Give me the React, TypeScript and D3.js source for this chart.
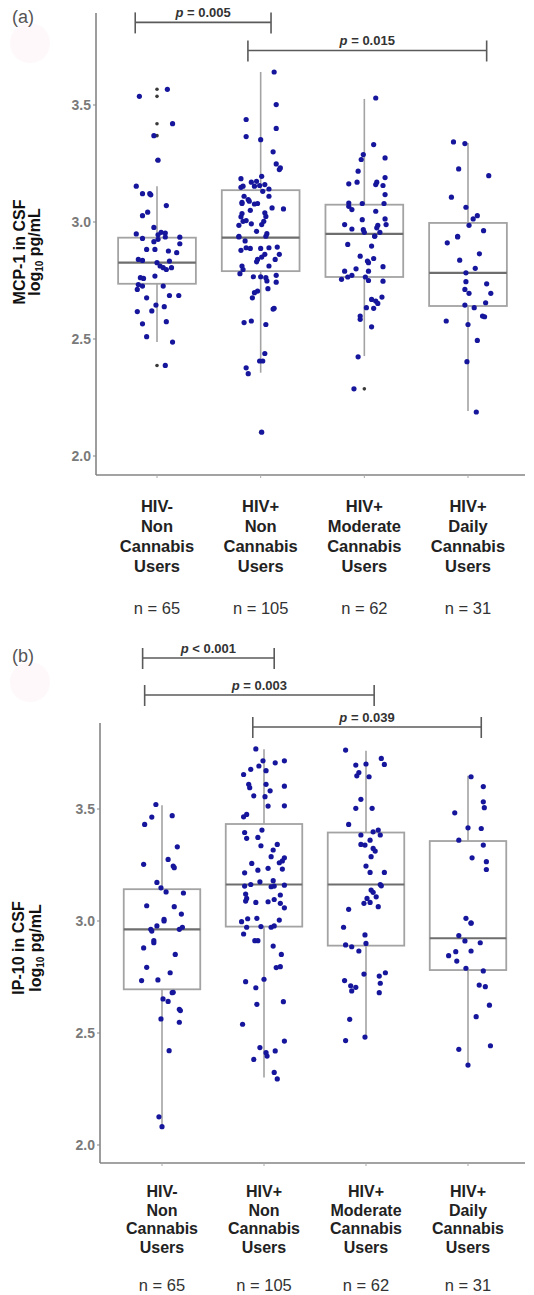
import React from "react";
import * as d3 from "d3";

type Pt = [number, number];

// ---------- shared categories ----------
const categories: string[][] = [
  ["HIV-", "Non", "Cannabis", "Users"],
  ["HIV+", "Non", "Cannabis", "Users"],
  ["HIV+", "Moderate", "Cannabis", "Users"],
  ["HIV+", "Daily", "Cannabis", "Users"],
];
const sampleSizes = ["n = 65", "n = 105", "n = 62", "n = 31"];
const yTicks = [2.0, 2.5, 3.0, 3.5];

// ---------- Panel (a): MCP-1 ----------
const mcpQ1 = [2.736, 2.79, 2.765, 2.641];
const mcpMed = [2.826, 2.933, 2.949, 2.783];
const mcpQ3 = [2.933, 3.136, 3.074, 2.996];
const mcpLo = [2.487, 2.356, 2.427, 2.192];
const mcpHi = [3.153, 3.641, 3.526, 3.338];
const mcpOutliers: Pt[] = [[0, 3.567], [0, 3.537], [0, 3.42], [0, 3.369], [0, 3.264], [0, 2.387], [1, 2.102], [2, 2.287]];

// [jitter (category units), log10 pg/mL]
const mcpG1: Pt[] = [
  [-0.17, 3.537], [0.1, 3.567], [0.15, 3.42], [-0.03, 3.369], [0.01, 3.264], [-0.2, 3.153], [-0.14, 3.121],
  [-0.07, 3.121], [-0.06, 3.116], [0.09, 3.07], [-0.09, 3.042], [-0.14, 3.027], [-0.03, 2.977], [-0.2, 2.949],
  [0.04, 2.956], [0.08, 2.953], [0.01, 2.945], [0.22, 2.935], [-0.14, 2.93], [0.01, 2.926], [0.08, 2.936],
  [-0.03, 2.916], [-0.1, 2.883], [-0.02, 2.883], [0.11, 2.876], [0.19, 2.869], [0.22, 2.907], [-0.18, 2.84],
  [-0.14, 2.836], [0.0, 2.826], [0.03, 2.812], [0.06, 2.805], [0.09, 2.797], [0.14, 2.805], [0.12, 2.833],
  [-0.02, 2.769], [-0.16, 2.762], [-0.13, 2.759], [-0.18, 2.733], [-0.19, 2.712], [-0.14, 2.726], [0.06, 2.726],
  [0.12, 2.686], [0.21, 2.686], [-0.1, 2.676], [-0.01, 2.645], [0.07, 2.638], [-0.05, 2.62], [-0.19, 2.617],
  [0.09, 2.574], [-0.14, 2.565], [-0.1, 2.51], [0.15, 2.487], [0.08, 2.387],
];
const mcpG2: Pt[] = [
  [0.13, 3.641], [0.15, 3.502], [-0.14, 3.438], [0.15, 3.4], [-0.14, 3.365], [0.0, 3.352], [0.12, 3.3],
  [0.15, 3.248], [0.18, 3.224], [0.19, 3.231], [-0.19, 3.185], [-0.09, 3.17], [-0.04, 3.174], [0.01, 3.195],
  [-0.17, 3.153], [-0.19, 3.148], [-0.06, 3.153], [-0.01, 3.156], [0.04, 3.16], [0.08, 3.141], [0.02, 3.131],
  [-0.16, 3.11], [-0.12, 3.096], [0.08, 3.11], [-0.18, 3.079], [-0.18, 3.084], [-0.11, 3.089], [-0.06, 3.077],
  [-0.03, 3.079], [0.11, 3.06], [0.22, 3.056], [-0.1, 3.05], [-0.18, 3.036], [-0.19, 3.022], [-0.17, 3.003],
  [0.04, 3.039], [0.05, 3.024], [-0.14, 3.006], [-0.09, 2.992], [0.03, 3.003], [0.01, 2.989], [-0.21, 2.986],
  [-0.04, 2.96], [0.06, 2.95], [0.05, 2.939], [-0.21, 2.939], [-0.21, 2.936], [-0.15, 2.919], [-0.14, 2.89],
  [-0.1, 2.887], [-0.19, 2.879], [0.0, 2.887], [0.08, 2.89], [0.16, 2.893], [0.18, 2.862], [0.04, 2.862],
  [0.01, 2.85], [-0.03, 2.84], [-0.04, 2.83], [0.14, 2.84], [0.08, 2.812], [-0.18, 2.812], [-0.17, 2.797],
  [-0.2, 2.779], [-0.07, 2.766], [0.0, 2.766], [0.05, 2.762], [0.06, 2.748], [0.15, 2.772], [0.15, 2.743],
  [0.07, 2.715], [-0.03, 2.705], [-0.06, 2.698], [-0.08, 2.676], [0.13, 2.631], [0.12, 2.628], [-0.16, 2.57],
  [-0.09, 2.577], [0.05, 2.562], [0.04, 2.438], [-0.01, 2.406], [0.02, 2.406], [-0.14, 2.377], [-0.12, 2.352],
  [0.01, 2.102],
];
const mcpG3: Pt[] = [
  [0.11, 3.53], [0.09, 3.331], [-0.01, 3.288], [-0.03, 3.267], [0.2, 3.274], [-0.06, 3.217], [-0.15, 3.163],
  [-0.07, 3.17], [0.12, 3.17], [0.11, 3.16], [0.18, 3.156], [0.2, 3.19], [0.2, 3.117], [-0.15, 3.081],
  [-0.15, 3.067], [-0.12, 3.053], [-0.02, 3.079], [0.19, 3.079], [0.11, 3.046], [-0.02, 3.01], [0.2, 3.013],
  [0.21, 2.989], [0.13, 2.986], [0.12, 2.975], [-0.19, 2.989], [-0.12, 2.97], [-0.01, 2.967], [0.0, 2.956],
  [0.15, 2.956], [0.1, 2.939], [-0.16, 2.904], [0.07, 2.897], [0.1, 2.94], [-0.04, 2.854], [0.03, 2.833],
  [0.09, 2.844], [0.04, 2.826], [0.18, 2.809], [-0.08, 2.8], [-0.19, 2.79], [-0.12, 2.772], [-0.16, 2.765],
  [-0.22, 2.755], [0.04, 2.79], [0.01, 2.765], [0.04, 2.75], [0.18, 2.747], [0.07, 2.669], [0.11, 2.662],
  [0.13, 2.652], [0.17, 2.679], [0.02, 2.634], [0.09, 2.631], [-0.04, 2.598], [-0.04, 2.584], [0.07, 2.552],
  [-0.06, 2.424], [-0.1, 2.287],
];
const mcpG4: Pt[] = [
  [-0.14, 3.342], [-0.03, 3.335], [-0.09, 3.227], [0.2, 3.198], [-0.16, 3.106], [-0.02, 3.063], [0.09, 3.027],
  [0.05, 3.013], [0.01, 2.986], [0.15, 2.963], [-0.1, 2.939], [-0.2, 2.911], [-0.1, 2.936], [-0.08, 2.837],
  [0.11, 2.864], [0.07, 2.802], [-0.02, 2.783], [-0.02, 2.745], [0.18, 2.736], [0.22, 2.695], [-0.03, 2.712],
  [0.01, 2.695], [0.17, 2.655], [-0.03, 2.645], [0.06, 2.634], [0.14, 2.598], [0.16, 2.595], [-0.21, 2.577],
  [0.0, 2.562], [0.09, 2.494], [-0.01, 2.403], [0.08, 2.188],
];

// ---------- Panel (b): IP-10 ----------
const ipQ1 = [2.695, 2.975, 2.89, 2.781];
const ipMed = [2.963, 3.163, 3.163, 2.923];
const ipQ3 = [3.142, 3.433, 3.395, 3.357];
const ipLo = [2.082, 2.301, 2.484, 2.357];
const ipHi = [3.517, 3.767, 3.76, 3.648];
const ipOutliers: Pt[] = [];

const ipG1: Pt[] = [
  [-0.06, 3.52], [-0.1, 3.464], [-0.17, 3.431], [0.1, 3.47], [0.15, 3.331], [-0.18, 3.253], [0.06, 3.275],
  [0.11, 3.245], [0.12, 3.238], [-0.05, 3.172], [-0.01, 3.148], [0.04, 3.13], [0.21, 3.125], [-0.15, 3.068],
  [0.12, 3.064], [0.19, 3.031], [0.02, 3.007], [0.02, 3.0], [-0.05, 2.978], [-0.11, 2.963], [-0.1, 2.955],
  [0.17, 2.963], [0.2, 2.972], [-0.08, 2.912], [-0.08, 2.903], [-0.18, 2.88], [0.13, 2.851], [-0.15, 2.793],
  [0.08, 2.769], [-0.2, 2.734], [-0.04, 2.737], [0.1, 2.68], [0.11, 2.682], [0.01, 2.652], [0.06, 2.641],
  [0.17, 2.606], [0.18, 2.6], [-0.01, 2.563], [0.17, 2.548], [0.07, 2.421], [-0.03, 2.126], [0.0, 2.082],
];
const ipG2: Pt[] = [
  [-0.08, 3.768], [-0.01, 3.715], [0.11, 3.706], [0.2, 3.715], [-0.05, 3.692], [-0.13, 3.677], [0.02, 3.671],
  [-0.2, 3.654], [-0.15, 3.61], [-0.14, 3.595], [0.02, 3.61], [0.2, 3.602], [0.06, 3.581], [-0.1, 3.559],
  [0.01, 3.555], [0.04, 3.513], [0.2, 3.514], [-0.17, 3.476], [-0.2, 3.465], [-0.02, 3.406], [-0.19, 3.395],
  [-0.17, 3.369], [-0.06, 3.373], [-0.03, 3.336], [0.13, 3.342], [0.09, 3.317], [0.07, 3.287], [0.2, 3.282],
  [0.18, 3.268], [0.15, 3.26], [-0.12, 3.257], [-0.19, 3.215], [-0.06, 3.227], [0.04, 3.235], [0.18, 3.232],
  [-0.19, 3.156], [-0.13, 3.163], [-0.04, 3.175], [0.09, 3.18], [0.1, 3.156], [0.2, 3.16], [0.07, 3.153],
  [-0.18, 3.12], [-0.17, 3.101], [-0.18, 3.089], [-0.08, 3.083], [0.04, 3.086], [0.1, 3.096], [0.16, 3.116],
  [0.16, 3.079], [0.2, 3.059], [-0.22, 2.997], [-0.16, 3.01], [-0.07, 3.012], [0.15, 3.004], [-0.17, 2.972],
  [-0.03, 2.975], [0.07, 2.972], [0.1, 2.978], [-0.2, 2.942], [-0.09, 2.912], [-0.06, 2.912], [0.09, 2.888],
  [0.17, 2.851], [0.12, 2.792], [0.16, 2.796], [-0.18, 2.729], [0.0, 2.74], [-0.08, 2.702], [0.19, 2.64],
  [-0.07, 2.628], [-0.21, 2.539], [0.2, 2.464], [-0.04, 2.435], [0.02, 2.412], [0.03, 2.397], [0.11, 2.42],
  [-0.1, 2.382], [0.1, 2.324], [0.13, 2.295],
];
const ipG3: Pt[] = [
  [-0.2, 3.763], [0.15, 3.726], [0.18, 3.699], [-0.1, 3.696], [0.0, 3.701], [-0.07, 3.663], [-0.09, 3.648],
  [0.03, 3.644], [-0.05, 3.543], [-0.1, 3.503], [0.06, 3.503], [-0.17, 3.431], [0.07, 3.398], [0.12, 3.406],
  [0.14, 3.384], [-0.05, 3.384], [0.04, 3.361], [-0.05, 3.342], [-0.01, 3.339], [0.07, 3.324], [0.09, 3.312],
  [0.05, 3.287], [0.0, 3.245], [0.04, 3.217], [0.18, 3.217], [0.14, 3.163], [0.15, 3.157], [0.05, 3.138],
  [0.07, 3.128], [0.1, 3.108], [0.01, 3.101], [-0.02, 3.079], [0.04, 3.083], [0.12, 3.064], [-0.17, 3.052],
  [-0.22, 2.972], [-0.01, 2.938], [0.0, 2.9], [-0.2, 2.893], [-0.14, 2.885], [-0.07, 2.866], [-0.02, 2.763],
  [-0.21, 2.734], [-0.15, 2.711], [-0.1, 2.704], [-0.14, 2.688], [0.13, 2.754], [0.19, 2.769], [0.14, 2.722],
  [0.13, 2.68], [-0.16, 2.561], [-0.2, 2.466], [-0.01, 2.482],
];
const ipG4: Pt[] = [
  [0.03, 3.644], [0.15, 3.6], [0.15, 3.532], [0.16, 3.506], [-0.13, 3.483], [0.0, 3.416], [0.13, 3.413],
  [-0.09, 3.361], [0.15, 3.339], [0.04, 3.282], [0.18, 3.265], [0.18, 3.23], [-0.02, 3.012], [0.03, 2.992],
  [0.03, 2.99], [-0.09, 2.935], [-0.03, 2.911], [0.12, 2.903], [0.03, 2.866], [-0.12, 2.863], [-0.19, 2.845],
  [-0.11, 2.821], [-0.02, 2.789], [0.15, 2.777], [0.11, 2.714], [0.17, 2.707], [0.21, 2.624], [0.08, 2.573],
  [-0.09, 2.427], [0.22, 2.443], [0.0, 2.357],
];

// significance brackets: [from, to (category units), y level (value units), label]
const mcpSigFrom = [-0.21, 0.877];
const mcpSigTo = [1.1, 3.18];
const mcpSigLevel = [3.853, 3.733];
const mcpSigText = ["= 0.005", "= 0.015"];

const ipSigFrom = [-0.19, -0.17, 0.89];
const ipSigTo = [1.1, 2.08, 3.13];
const ipSigLevel = [4.174, 4.009, 3.866];
const ipSigText = ["< 0.001", "= 0.003", "= 0.039"];

const FONT = "'Liberation Sans', Arial, Helvetica, sans-serif";

type PanelProps = {
  tag: string;
  tagY: number;
  axisX: number;
  top: number;
  bottom: number;
  right: number;
  yRange: [number, number];
  xRange: [number, number];
  groups: Pt[][];
  q1: number[];
  med: number[];
  q3: number[];
  lo: number[];
  hi: number[];
  outliers: Pt[];
  sigFrom: number[];
  sigTo: number[];
  sigLevel: number[];
  sigText: string[];
  yLabel: string;
  labelCenterY: number;
  labelX1: number;
  labelX2: number;
  catY: number;
  catStep: number;
  catSize: number;
  nY: number;
};

function Panel(p: PanelProps) {
  const y = d3.scaleLinear().domain([2.0, 3.5]).range(p.yRange);
  const x = d3.scaleLinear().domain([0, 3]).range(p.xRange);
  const halfBox = 0.375;
  const axisCol = "#858585";
  const boxCol = "#a3a3a3";
  const dotCol = "#16169c";
  return (
    <g>
      <circle cx={30} cy={p.tagY + 20} r={20} fill="#fef8fb" />
      <text x={12} y={p.tagY} fontFamily={FONT} fontSize={18} fill="#555">{p.tag}</text>

      {/* boxes */}
      {p.q1.map((_, i) => {
        const xl = x(i - halfBox), xr = x(i + halfBox), xc = x(i);
        return (
          <g key={"box" + i}>
            <line x1={xc} x2={xc} y1={y(p.hi[i])} y2={y(p.q3[i])} stroke={boxCol} strokeWidth={1.6} />
            <line x1={xc} x2={xc} y1={y(p.q1[i])} y2={y(p.lo[i])} stroke={boxCol} strokeWidth={1.6} />
            <rect x={xl} y={y(p.q3[i])} width={xr - xl} height={y(p.q1[i]) - y(p.q3[i])} fill="none" stroke={boxCol} strokeWidth={1.8} />
            <line x1={xl} x2={xr} y1={y(p.med[i])} y2={y(p.med[i])} stroke="#6e6e6e" strokeWidth={2.2} />
          </g>
        );
      })}
      {/* outliers */}
      {p.outliers.map((o, k) => (
        <circle key={"o" + k} cx={x(o[0])} cy={y(o[1])} r={1.8} fill="#3a3a3a" />
      ))}
      {/* jittered points */}
      {p.groups.map((g, i) =>
        g.map((pt, k) => (
          <circle key={`p${i}-${k}`} cx={x(i + pt[0])} cy={y(pt[1])} r={2.6} fill={dotCol} />
        ))
      )}

      {/* axes */}
      <line x1={p.axisX} x2={p.axisX} y1={p.top} y2={p.bottom} stroke={axisCol} strokeWidth={1.6} />
      <line x1={p.axisX} x2={p.right} y1={p.bottom} y2={p.bottom} stroke={axisCol} strokeWidth={1.6} />
      {yTicks.map((t) => (
        <g key={"yt" + t}>
          <line x1={p.axisX - 3} x2={p.axisX} y1={y(t)} y2={y(t)} stroke={axisCol} strokeWidth={1} />
          <text x={p.axisX - 5} y={y(t) + 5} textAnchor="end" fontFamily={FONT} fontSize={14} fontWeight="bold" fill="#7a7a7a">
            {t.toFixed(1)}
          </text>
        </g>
      ))}
      {categories.map((c, i) => (
        <line key={"xt" + i} x1={x(i)} x2={x(i)} y1={p.bottom} y2={p.bottom + 3} stroke="#aaa" strokeWidth={1} />
      ))}

      {/* y label */}
      <g transform={`translate(${p.labelX1},${p.labelCenterY}) rotate(-90)`}>
        <text x={0} y={0} textAnchor="middle" fontFamily={FONT} fontSize={16} fontWeight="bold" fill="#111">{p.yLabel}</text>
      </g>
      <g transform={`translate(${p.labelX2},${p.labelCenterY}) rotate(-90)`}>
        <text x={0} y={0} textAnchor="middle" fontFamily={FONT} fontSize={16} fontWeight="bold" fill="#111">
          log<tspan fontSize={10} dy={3}>10</tspan><tspan dy={-3}> pg/mL</tspan>
        </text>
      </g>

      {/* category labels */}
      {categories.map((c, i) => (
        <g key={"cat" + i}>
          {c.map((line, k) => (
            <text key={k} x={x(i)} y={p.catY + k * p.catStep} textAnchor="middle" fontFamily={FONT} fontSize={p.catSize} fontWeight="bold" fill="#222">
              {line}
            </text>
          ))}
          <text x={x(i)} y={p.nY} textAnchor="middle" fontFamily={FONT} fontSize={16.5} fill="#333">{sampleSizes[i]}</text>
        </g>
      ))}

      {/* significance brackets */}
      {p.sigFrom.map((f, k) => {
        const x1 = x(f), x2 = x(p.sigTo[k]), yy = y(p.sigLevel[k]);
        return (
          <g key={"sig" + k}>
            <line x1={x1} x2={x2} y1={yy} y2={yy} stroke="#5a5a5a" strokeWidth={1.6} />
            <line x1={x1} x2={x1} y1={yy - 10} y2={yy + 11} stroke="#5a5a5a" strokeWidth={1.6} />
            <line x1={x2} x2={x2} y1={yy - 10} y2={yy + 11} stroke="#5a5a5a" strokeWidth={1.6} />
            <text x={(x1 + x2) / 2} y={yy - 5} textAnchor="middle" fontFamily={FONT} fontSize={13} fontWeight="bold" fill="#333">
              <tspan fontStyle="italic">p</tspan> {p.sigText[k]}
            </text>
          </g>
        );
      })}
    </g>
  );
}

export default function App() {
  return (
    <svg width={534} height={1295} style={{ position: "absolute", left: 0, top: 0, background: "#fff" }}>
      <rect width={534} height={1295} fill="#fff" />
      <Panel
        tag="(a)" tagY={23}
        axisX={96} top={13} bottom={475} right={525}
        yRange={[456, 105]} xRange={[157, 468]}
        groups={[mcpG1, mcpG2, mcpG3, mcpG4]}
        q1={mcpQ1} med={mcpMed} q3={mcpQ3} lo={mcpLo} hi={mcpHi} outliers={mcpOutliers}
        sigFrom={mcpSigFrom} sigTo={mcpSigTo} sigLevel={mcpSigLevel} sigText={mcpSigText}
        yLabel="MCP-1 in CSF" labelCenterY={252} labelX1={25} labelX2={40}
        catY={512} catStep={20} catSize={16.5} nY={614}
      />
      <Panel
        tag="(b)" tagY={662}
        axisX={100} top={723} bottom={1163} right={525}
        yRange={[1145, 809]} xRange={[162, 468]}
        groups={[ipG1, ipG2, ipG3, ipG4]}
        q1={ipQ1} med={ipMed} q3={ipQ3} lo={ipLo} hi={ipHi} outliers={ipOutliers}
        sigFrom={ipSigFrom} sigTo={ipSigTo} sigLevel={ipSigLevel} sigText={ipSigText}
        yLabel="IP-10 in CSF" labelCenterY={948} labelX1={24} labelX2={41}
        catY={1197} catStep={18.7} catSize={16} nY={1291}
      />
    </svg>
  );
}
